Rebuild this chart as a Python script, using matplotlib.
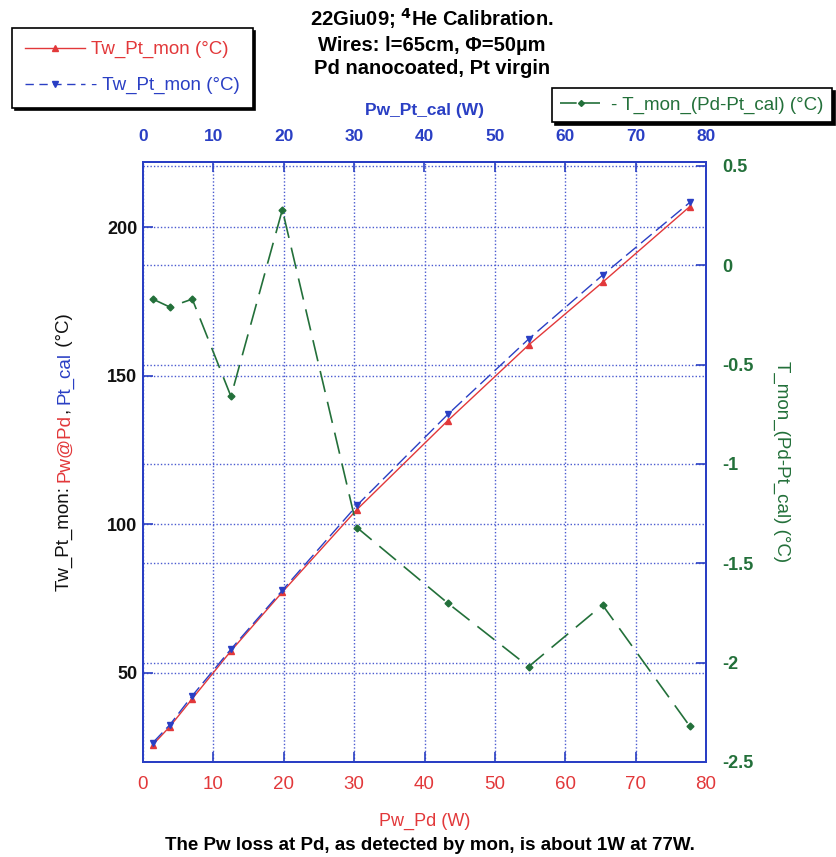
import matplotlib
matplotlib.use("Agg")
import matplotlib.pyplot as plt
from matplotlib import font_manager
from matplotlib.lines import Line2D

# ---- data ----
pw_pd = [1.4, 3.8, 7.0, 12.5, 19.8, 30.4, 43.3, 54.8, 65.3, 77.7]          # W, bottom axis
tw_mon = [25.8, 31.9, 41.3, 57.4, 77.2, 105.0, 134.9, 160.4, 181.5, 207.0]  # °C, red
pw_pt_cal = [1.4, 3.8, 7.0, 12.5, 19.8, 30.4, 43.3, 54.8, 65.3, 77.7]       # W, top axis
tw_cal = [26.5, 32.5, 42.3, 58.0, 77.8, 106.4, 137.0, 162.4, 183.9, 208.4]  # °C, blue
t_diff = [-0.17, -0.21, -0.17, -0.66, 0.28, -1.32, -1.70, -2.02, -1.71, -2.32]  # °C, green

x_ticks = [0, 10, 20, 30, 40, 50, 60, 70, 80]
left_ticks = [50, 100, 150, 200]
right_ticks = [-2.5, -2, -1.5, -1, -0.5, 0, 0.5]
right_ticklabels = ["-2.5", "-2", "-1.5", "-1", "-0.5", "0", "0.5"]

RED = "#e2383a"
BLUE = "#2a3fc4"
GREEN = "#23703a"
GRID = "#4a5ad0"

names = {f.name for f in font_manager.fontManager.ttflist}
SANS = "Liberation Sans" if "Liberation Sans" in names else "DejaVu Sans"
plt.rcParams["font.family"] = [SANS, "DejaVu Sans"]

W, H = 836, 857
fig = plt.figure(figsize=(W / 100, H / 100), dpi=100)
ax = fig.add_axes([143 / W, 1 - 762 / H, (706 - 143) / W, 600 / H])
ax_r = ax.twinx()
ax_t = ax.twiny()

# ---- axes ranges / ticks ----
ax.set_xlim(0, 80)
ax.set_ylim(20, 222)
ax_t.set_xlim(0, 80)
ax_r.set_ylim(-2.5, 0.52)

ax.set_xticks(x_ticks)
ax.set_yticks(left_ticks)
ax_t.set_xticks(x_ticks)
ax_r.set_yticks(right_ticks)
ax_r.set_yticklabels(right_ticklabels)

for a in (ax, ax_r, ax_t):
    for s in a.spines.values():
        s.set_color(BLUE)
        s.set_linewidth(1.3)
    a.tick_params(direction="in", length=7, width=1.2, color=BLUE)

ax.tick_params(axis="x", labelcolor=RED, labelsize=13.5, pad=10)
ax.tick_params(axis="y", labelcolor="#111111", labelsize=13, pad=4)
for lbl in ax.get_yticklabels():
    lbl.set_fontweight("bold")
ax_t.tick_params(axis="x", labelcolor=BLUE, labelsize=12.5, pad=13)
for lbl in ax_t.get_xticklabels():
    lbl.set_fontweight("bold")
ax_r.tick_params(axis="y", labelcolor=GREEN, labelsize=13, pad=12)
for lbl in ax_r.get_yticklabels():
    lbl.set_fontweight("bold")

# ---- grid: vertical every 10 W, horizontal at both y-axes' ticks ----
ax.grid(True, which="major", color=GRID, linestyle=(0, (1, 1.5)), linewidth=1.0)
ax_r.grid(True, axis="y", color=GRID, linestyle=(0, (1, 1.5)), linewidth=1.0)
ax.set_axisbelow(True)

# ---- series ----
ax.plot(pw_pd, tw_mon, color=RED, lw=1.0, marker="^", ms=5, mfc=RED, mec=RED, zorder=3)
ax_t.plot(pw_pt_cal, tw_cal, color=BLUE, lw=1.0, dashes=(10, 4), marker="v", ms=5,
          mfc=BLUE, mec=BLUE, zorder=3)
ax_r.plot(pw_pd, t_diff, color=GREEN, lw=1.2, dashes=(13, 6), marker="D", ms=3.5,
          mfc=GREEN, mec=GREEN, zorder=3)

# ---- axis labels ----
ax.set_xlabel("Pw_Pd (W)", color=RED, fontsize=13, labelpad=14)
ax_t.set_xlabel("Pw_Pt_cal (W)", color=BLUE, fontsize=12.5, fontweight="bold", labelpad=10)
ax_r.set_ylabel("T_mon_(Pd-Pt_cal) (°C)", color=GREEN, fontsize=13.5, rotation=-90,
                labelpad=26)

# multi-coloured rotated left label, pieces stacked bottom to top
pieces = [("Tw_Pt_mon: ", "#111111"), ("Pw@Pd", RED), (", ", "#111111"),
          ("Pt_cal", BLUE), (" (°C)", "#111111")]
fig.canvas.draw()
renderer = fig.canvas.get_renderer()
texts = [fig.text(0, 0, s, color=c, rotation=90, fontsize=13.5, ha="left", va="bottom")
         for s, c in pieces]
heights = [t.get_window_extent(renderer).height for t in texts]
y_pix = (H - 452) - sum(heights) / 2
for t, h in zip(texts, heights):
    t.set_position((56 / W, y_pix / H))
    y_pix += h

# ---- title ----
fig.text(432 / W, 1 - 6 / H,
         "22Giu09; $^{\\mathbf{4}}$He Calibration.\nWires: l=65cm, \u03a6=50\u00b5m\nPd nanocoated, Pt virgin",
         ha="center", va="top", fontsize=14.5, fontweight="bold", linespacing=1.32)

# ---- legends ----
h_red = Line2D([], [], color=RED, lw=1.0, marker="^", ms=5)
h_blue = Line2D([], [], color=BLUE, lw=1.0, dashes=(6, 4), marker="v", ms=5)
leg1 = fig.legend([h_red, h_blue], ["Tw_Pt_mon (°C)", "- Tw_Pt_mon (°C)"],
                  loc="upper left", bbox_to_anchor=(12 / W, 1 - 28 / H), borderaxespad=0,
                  frameon=True, fancybox=False, shadow={"color": "black", "alpha": 1},
                  edgecolor="black", framealpha=1, handlelength=3.2,
                  labelspacing=1.0, borderpad=0.7, handletextpad=0.3,
                  prop={"size": 13.5})
for t, c in zip(leg1.get_texts(), [RED, BLUE]):
    t.set_color(c)
leg1.get_frame().set_linewidth(1.2)

h_green = Line2D([], [], color=GREEN, lw=1.2, dashes=(10, 4), marker="D", ms=3)
leg2 = fig.legend([h_green], ["- T_mon_(Pd-Pt_cal) (°C)"],
                  loc="upper left", bbox_to_anchor=(552 / W, 1 - 88 / H), borderaxespad=0,
                  frameon=True, fancybox=False, shadow={"color": "black", "alpha": 1},
                  edgecolor="black", framealpha=1, handlelength=2.2,
                  borderpad=0.45, handletextpad=0.5,
                  prop={"size": 13.5})
leg2.get_texts()[0].set_color(GREEN)
leg2.get_frame().set_linewidth(1.2)

# ---- footnote ----
fig.text(430 / W, 1 - 845 / H,
         "The Pw loss at Pd, as detected by mon, is about 1W at 77W.",
         ha="center", va="center", fontsize=13.5, fontweight="bold")

fig.savefig("out.png", dpi=100, facecolor="white")
